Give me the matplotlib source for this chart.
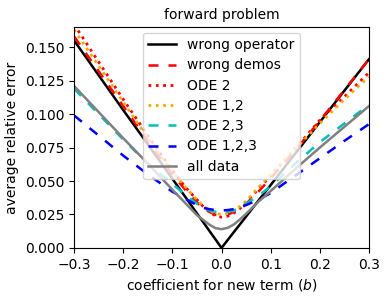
import numpy as np
import matplotlib
matplotlib.use("Agg")
import matplotlib.pyplot as plt

# coefficient for the new term
b = [-0.3, -0.25, -0.2, -0.15, -0.1, -0.075, -0.05, -0.0375, -0.025, -0.0125, 0.0,
     0.0125, 0.025, 0.0375, 0.05, 0.075, 0.1, 0.15, 0.2, 0.25, 0.3]

wrong_operator = [0.155, 0.129, 0.103, 0.0775, 0.0517, 0.0388, 0.0258, 0.0194, 0.0129, 0.0065, 0.0,
                  0.0059, 0.0118, 0.0176, 0.0235, 0.0353, 0.047, 0.0705, 0.094, 0.1175, 0.141]
wrong_demos = [0.158, 0.132, 0.106, 0.080, 0.055, 0.044, 0.034, 0.030, 0.027, 0.0248, 0.024,
               0.0248, 0.027, 0.0295, 0.033, 0.042, 0.052, 0.073, 0.095, 0.118, 0.141]
ode_2 = [0.167, 0.139, 0.111, 0.084, 0.058, 0.046, 0.036, 0.031, 0.027, 0.024, 0.023,
         0.0237, 0.026, 0.0295, 0.034, 0.044, 0.054, 0.074, 0.0955, 0.113, 0.131]
ode_12 = [0.163, 0.136, 0.109, 0.082, 0.057, 0.046, 0.036, 0.0315, 0.028, 0.0258, 0.025,
          0.0258, 0.028, 0.031, 0.035, 0.045, 0.055, 0.074, 0.093, 0.111, 0.128]
ode_23 = [0.119, 0.100, 0.081, 0.063, 0.048, 0.040, 0.033, 0.030, 0.028, 0.027, 0.0265,
          0.027, 0.028, 0.030, 0.033, 0.039, 0.046, 0.063, 0.079, 0.093, 0.107]
ode_123 = [0.099, 0.084, 0.069, 0.055, 0.042, 0.037, 0.032, 0.030, 0.029, 0.0283, 0.028,
           0.0283, 0.029, 0.030, 0.032, 0.036, 0.041, 0.054, 0.067, 0.080, 0.0925]
all_data = [0.121, 0.1015, 0.082, 0.063, 0.0435, 0.034, 0.0245, 0.021, 0.0175, 0.0148, 0.014,
            0.015, 0.0175, 0.0213, 0.0255, 0.0345, 0.0425, 0.059, 0.075, 0.0905, 0.106]

fig = plt.figure(figsize=(3.9, 2.98), dpi=100)
ax = fig.add_axes([0.19, 0.168, 0.756, 0.741])

ax.plot(b, wrong_operator, color="k", lw=1.8, label="wrong operator")
ax.plot(b, wrong_demos, color="r", ls="--", lw=1.8, dashes=(4, 4), label="wrong demos")
ax.plot(b, ode_2, color="r", ls=":", lw=2, label="ODE 2")
ax.plot(b, ode_12, color="orange", ls=":", lw=2, label="ODE 1,2")
ax.plot(b, ode_23, color="c", ls="--", lw=1.8, dashes=(4, 4), label="ODE 2,3")
ax.plot(b, ode_123, color="b", ls="--", lw=1.8, dashes=(4, 4), label="ODE 1,2,3")
ax.plot(b, all_data, color="gray", lw=1.8, label="all data")

ax.set_xlim(-0.3, 0.3)
ax.set_ylim(0, 0.165)
ax.set_xticks([-0.3, -0.2, -0.1, 0.0, 0.1, 0.2, 0.3])
ax.set_yticks([0, 0.025, 0.05, 0.075, 0.1, 0.125, 0.15])
ax.yaxis.set_major_formatter(matplotlib.ticker.FormatStrFormatter("%.3f"))
ax.set_xlabel("coefficient for new term ($b$)")
ax.set_ylabel("average relative error")
ax.set_title("forward problem", fontsize=10)
ax.legend(loc="upper center", fontsize=10, handlelength=2, labelspacing=0.45,
          borderaxespad=0.4)

fig.savefig("out.png", dpi=100)
